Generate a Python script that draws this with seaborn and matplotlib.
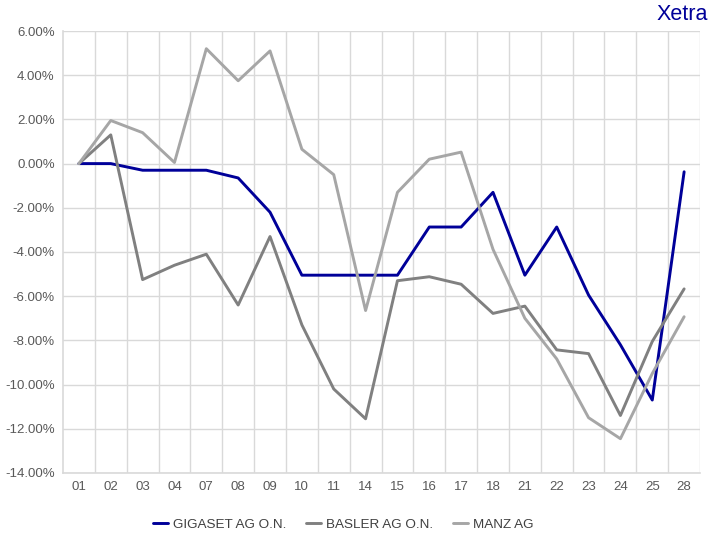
import numpy as np
import pandas as pd
import matplotlib.pyplot as plt
import seaborn as sns
from matplotlib.ticker import FixedLocator, PercentFormatter

days = ['01', '02', '03', '04', '07', '08', '09', '10', '11', '14',
        '15', '16', '17', '18', '21', '22', '23', '24', '25', '28']
gigaset = [0.0, 0.0, -0.3, -0.3, -0.3, -0.65, -2.2, -5.05, -5.05, -5.05,
           -5.05, -2.87, -2.87, -1.3, -5.05, -2.87, -5.95, -8.2, -10.7, -0.37]
basler = [0.0, 1.3, -5.25, -4.6, -4.1, -6.4, -3.3, -7.3, -10.2, -11.55,
          -5.3, -5.12, -5.46, -6.78, -6.45, -8.43, -8.6, -11.4, -8.05, -5.67]
manz = [0.0, 1.95, 1.4, 0.05, 5.2, 3.75, 5.1, 0.65, -0.5, -6.65,
        -1.3, 0.2, 0.52, -3.88, -7.0, -8.84, -11.5, -12.45, -9.5, -6.93]
series_names = ['GIGASET AG O.N.', 'BASLER AG O.N.', 'MANZ AG']
colors = ['#000099', '#808080', '#A6A6A6']

df = pd.DataFrame({'day': days * 3,
                   'value': gigaset + basler + manz,
                   'name': [n for n in series_names for _ in days]})

sns.set_style('white')
plt.rcParams['font.family'] = ['Liberation Sans', 'DejaVu Sans']
plt.rcParams['axes.unicode_minus'] = False

fig = plt.figure(figsize=(7.1, 5.35), dpi=100)
ax = fig.add_axes([0.0887, 0.116, 0.8973, 0.826])

sns.lineplot(data=df, x='day', y='value', hue='name', hue_order=series_names,
             palette=colors, linewidth=2.1, sort=False, ax=ax)

ax.set_xlim(-0.5, len(days) - 0.5)
ax.set_ylim(-14, 6)
ax.set_yticks(np.arange(-14, 6.1, 2))
ax.yaxis.set_major_formatter(PercentFormatter(decimals=2))
ax.xaxis.set_minor_locator(FixedLocator(np.arange(0.5, len(days) - 0.5, 1)))
ax.grid(axis='y', which='major', color='#D9D9D9', linewidth=1)
ax.grid(axis='x', which='minor', color='#D9D9D9', linewidth=1)
ax.grid(axis='x', which='major', visible=False)
ax.set_axisbelow(True)
ax.tick_params(axis='both', which='both', length=0, labelsize=9.5,
               labelcolor='#595959', pad=6)
ax.set_xlabel('')
ax.set_ylabel('')
for side in ['top', 'right']:
    ax.spines[side].set_visible(False)
for side in ['left', 'bottom']:
    ax.spines[side].set_color('#D9D9D9')
    ax.spines[side].set_linewidth(1.2)
ax.plot([len(days) - 0.5] * 2, [-14, 6], color='#D9D9D9', lw=1, zorder=0)

ax.legend(loc='upper center', bbox_to_anchor=(0.44, -0.075), ncol=3,
          frameon=False, fontsize=9.7, handlelength=1.1, columnspacing=1.5,
          labelcolor='#404040', handletextpad=0.35)

fig.text(0.997, 0.972, 'Xetra', ha='right', va='center', color='#000099',
         fontsize=15.5)

fig.savefig('out.png', dpi=100)
